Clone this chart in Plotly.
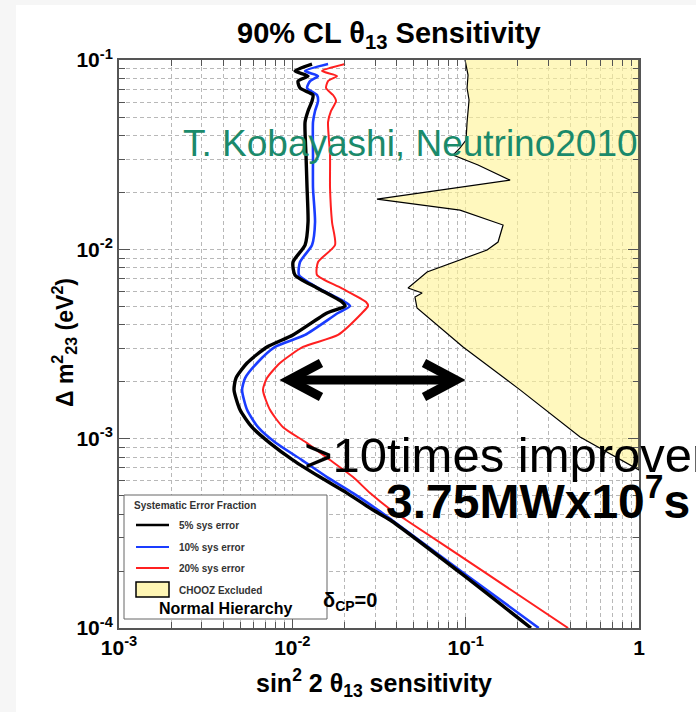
import plotly.graph_objects as go

# ---------------- data ----------------
dm2 = [0.0952, 0.0875, 0.0823, 0.0774, 0.0711, 0.0653, 0.0607, 0.0538, 0.0470,
       0.0315, 0.0211, 0.01394, 0.01054, 0.00857, 0.00731, 0.00625, 0.00527,
       0.00502, 0.00461, 0.00353, 0.00305, 0.00251, 0.00209, 0.00181, 0.00142,
       0.00115, 0.000948, 0.000771, 0.000627, 0.000516, 0.000420, 0.000372,
       0.000193, 0.0001]

sens_5pct = [0.01299, 0.01036, 0.01232, 0.01079, 0.01107, 0.01316, 0.01299, 0.01232,
             0.01184, 0.01199, 0.01216, 0.01232, 0.01184, 0.01009, 0.01036, 0.01388,
             0.01935, 0.02014, 0.01585, 0.01009, 0.00714, 0.00548, 0.00473, 0.00461,
             0.00499, 0.00585, 0.00743, 0.01009, 0.01444, 0.02068, 0.02922, 0.03664,
             0.0950, 0.2380]

sens_10pct = [0.01607, 0.01184, 0.01407, 0.01265, 0.01216, 0.01388, 0.01407, 0.01352,
              0.01316, 0.01316, 0.01316, 0.01352, 0.01299, 0.01107, 0.01093, 0.01407,
              0.02014, 0.02153, 0.01835, 0.01184, 0.00795, 0.00626, 0.00534, 0.00513,
              0.00548, 0.00634, 0.00805, 0.01137, 0.01585, 0.02240, 0.03123, 0.03750,
              0.0990, 0.2640]

sens_20pct = [0.02014, 0.01484, 0.01810, 0.01607, 0.01565, 0.01717, 0.01787, 0.01672,
              0.01607, 0.01650, 0.01650, 0.01694, 0.01764, 0.01407, 0.01388, 0.01910,
              0.02663, 0.02734, 0.02525, 0.01835, 0.01152, 0.00849, 0.00714, 0.00677,
              0.00743, 0.00884, 0.01216, 0.01650, 0.02240, 0.02808, 0.03713, 0.04531,
              0.1329, 0.3899]

chooz_sens = [0.0992, 0.1032, 0.1019, 0.1046, 0.1019, 0.1005, 0.0928, 0.0846, 0.1179,
              0.1804, 0.0308, 0.0928, 0.1644, 0.1538, 0.1329, 0.0599, 0.0465, 0.0561,
              0.0510, 0.0524, 0.0966, 0.2060, 0.4571, 1.0, 1.0]
chooz_dm2 = [0.1, 0.0833, 0.0711, 0.0615, 0.0470, 0.0378, 0.0343, 0.0315, 0.0279,
             0.0232, 0.0184, 0.0161, 0.01344, 0.01093, 0.00992, 0.00759, 0.00625,
             0.00588, 0.00560, 0.00490, 0.00305, 0.00181, 0.00102, 0.000683, 0.1]

x_tickvals = [0.001, 0.01, 0.1, 1]
x_ticktext = ["<b>10<sup>-3</sup></b>", "<b>10<sup>-2</sup></b>", "<b>10<sup>-1</sup></b>", "<b>1</b>"]
y_tickvals = [0.0001, 0.001, 0.01, 0.1]
y_ticktext = ["<b>10<sup>-4</sup></b>", "<b>10<sup>-3</sup></b>", "<b>10<sup>-2</sup></b>", "<b>10<sup>-1</sup></b>"]

x_minor = [m * d for d in (0.001, 0.01, 0.1) for m in range(2, 10)]
y_minor = [m * d for d in (0.0001, 0.001, 0.01) for m in range(2, 10)]

series = [
    ("20% sys error", sens_20pct, "#ff2020", 2.0),
    ("10% sys error", sens_10pct, "#1a3cff", 2.6),
    ("5% sys error", sens_5pct, "#000000", 3.4),
]

FONT = "Arial, Liberation Sans, Helvetica, sans-serif"
W, H = 696, 712
L, R, T, B = 119, 57, 60, 84
PW, PH = W - L - R, H - T - B


def px(xp):
    return (xp - L) / PW


def py(yp):
    return (H - B - yp) / PH


fig = go.Figure()

fig.add_trace(go.Scatter(
    x=chooz_sens, y=chooz_dm2, mode="lines", fill="toself",
    fillcolor="rgba(255,243,150,0.62)", line=dict(color="black", width=1.2),
    hoverinfo="skip", showlegend=False))

for name, vals, col, w in series:
    fig.add_trace(go.Scatter(x=vals, y=dm2, mode="lines", name=name,
                             line=dict(color=col, width=w, shape="spline", smoothing=0.6),
                             hoverinfo="skip", showlegend=False))

grid = "#b8b8b8"
gdash = "4px,3px"
axis_common = dict(
    type="log", showline=True, linecolor="#555", linewidth=2, mirror="allticks",
    ticks="inside", ticklen=11, tickwidth=1, tickcolor="#555",
    showgrid=True, gridcolor=grid, griddash=gdash, gridwidth=1,
    zeroline=False,
    tickfont=dict(family=FONT, size=21, color="black", weight="bold"),
)

fig.update_xaxes(range=[-3, 0], tickvals=x_tickvals, ticktext=x_ticktext,
                 minor=dict(tickvals=x_minor, ticks="inside", ticklen=6, tickcolor="#555",
                            showgrid=True, gridcolor=grid, griddash=gdash, gridwidth=1),
                 **axis_common)
fig.update_yaxes(range=[-4, -1], tickvals=y_tickvals, ticktext=y_ticktext,
                 minor=dict(tickvals=y_minor, ticks="inside", ticklen=6, tickcolor="#555",
                            showgrid=True, gridcolor=grid, griddash=gdash, gridwidth=1),
                 **axis_common)


def pline(pts, color, width):
    d = "M " + " L ".join(f"{px(a):.5f},{py(b):.5f}" for a, b in pts)
    return dict(type="path", xref="paper", yref="paper", path=d,
                line=dict(color=color, width=width), layer="above")


shapes = [
    # grey page edge and white panel
    dict(type="rect", xref="paper", yref="paper", x0=px(16), x1=px(720), y0=py(730), y1=py(5),
         fillcolor="white", line=dict(width=0), layer="below"),
    # legend box
    dict(type="rect", xref="paper", yref="paper", x0=px(124), x1=px(327), y0=py(619), y1=py(495),
         fillcolor="white", line=dict(color="#666", width=1), layer="above"),
    dict(type="line", xref="paper", yref="paper", x0=px(136), x1=px(169), y0=py(525), y1=py(525),
         line=dict(color="black", width=2.5)),
    dict(type="line", xref="paper", yref="paper", x0=px(136), x1=px(169), y0=py(547), y1=py(547),
         line=dict(color="#1a3cff", width=2)),
    dict(type="line", xref="paper", yref="paper", x0=px(136), x1=px(169), y0=py(568), y1=py(568),
         line=dict(color="#ff2020", width=2)),
    dict(type="rect", xref="paper", yref="paper", x0=px(136), x1=px(169), y0=py(597), y1=py(582),
         fillcolor="#fff6b4", line=dict(color="black", width=1.5)),
    # double-headed arrow
    pline([(292, 380), (453, 380)], "black", 9),
    pline([(321, 363), (289, 380), (321, 397)], "black", 9),
    pline([(424, 363), (456, 380), (424, 397)], "black", 9),
]

ann = []


def text(xp, yp, s, size, color="black", xanchor="left", bold=False, angle=0):
    ann.append(dict(xref="paper", yref="paper", x=px(xp), y=py(yp), text=(f"<b>{s}</b>" if bold else s),
                    showarrow=False, xanchor=xanchor, yanchor="middle", textangle=angle,
                    font=dict(family=FONT, size=size, color=color)))


text(389, 35, "90% CL θ<sub>13</sub> Sensitivity", 29, xanchor="center", bold=True)
text(374, 683, "sin<sup>2</sup> 2 θ<sub>13</sub> sensitivity", 25, xanchor="center", bold=True)
text(64, 343, "Δ m<sup>2</sup><sub>23</sub> (eV<sup>2</sup>)", 23, xanchor="center", bold=True, angle=-90)
text(181, 143, "T. Kobayashi, Neutrino2010", 37, color="#1b8a6b")
text(302, 455, "&gt;10times improvement", 49)
text(384, 498, "3.75MWx10<sup>7</sup>s", 48, bold=True)
text(321, 601, "δ<sub>CP</sub>=0", 20, bold=True)
text(132, 505, "Systematic Error Fraction", 10, color="#333", bold=True)
text(177, 525, "5% sys error", 10, color="#333", bold=True)
text(177, 547, "10% sys error", 10, color="#333", bold=True)
text(177, 568, "20% sys error", 10, color="#333", bold=True)
text(177, 590, "CHOOZ Excluded", 10, color="#333", bold=True)
text(225, 608, "Normal Hierarchy", 16, xanchor="center", bold=True)

fig.update_layout(
    width=W, height=H, margin=dict(l=L, r=R, t=T, b=B),
    paper_bgcolor="#f6f6f6", plot_bgcolor="white",
    showlegend=False, shapes=shapes, annotations=ann,
    font=dict(family=FONT, color="black"),
)

fig.write_html("out.html")
